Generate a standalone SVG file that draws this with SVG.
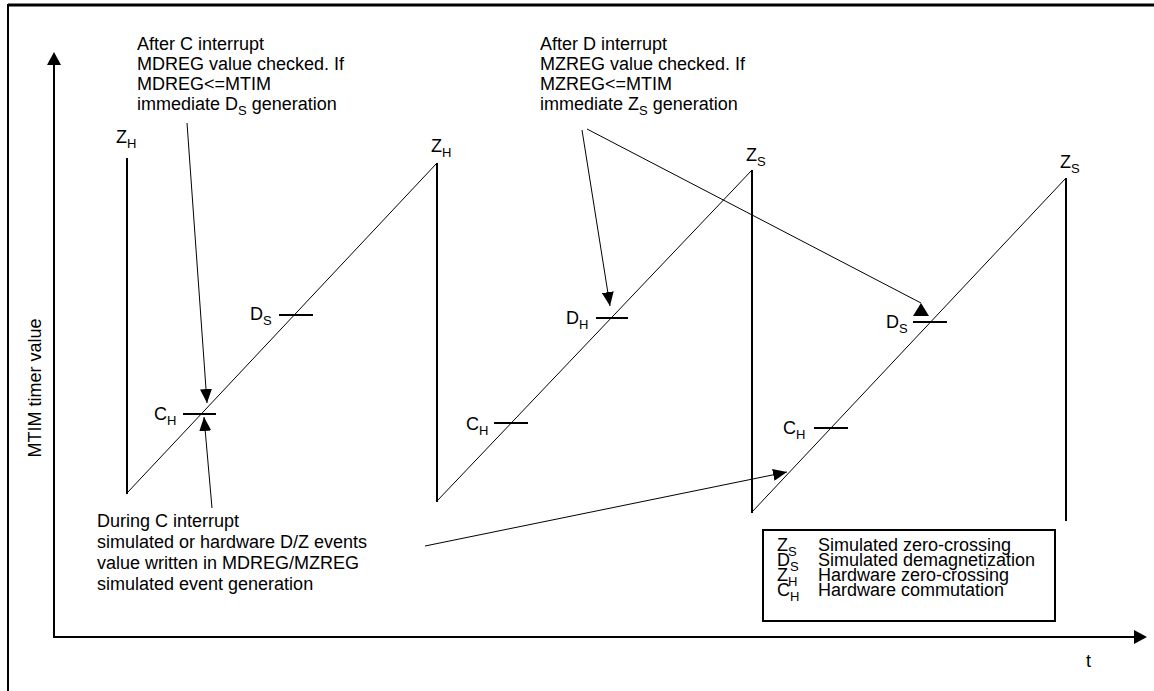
<svg xmlns="http://www.w3.org/2000/svg" width="1154" height="691" viewBox="0 0 1154 691">
<style>
text{font-family:"Liberation Sans",Arial,sans-serif;font-size:18px;fill:#000}
.sub{font-size:13px}
.thick{stroke:#000;stroke-width:2;fill:none}
.thin{stroke:#000;stroke-width:1;fill:none}
.arr{stroke:#000;stroke-width:1;fill:none;marker-end:url(#head)}
</style>
<defs>
<marker id="head" markerUnits="userSpaceOnUse" markerWidth="14" markerHeight="12" refX="14" refY="6" orient="auto"><path d="M0,0 L14,6 L0,12 z" fill="#000"/></marker>
<marker id="headUp" markerUnits="userSpaceOnUse" markerWidth="16" markerHeight="13" refX="8" refY="0" orient="0"><path d="M8,0 L16,13 L0,13 z" fill="#000"/></marker>
</defs>
<g id="frame">
<line x1="8" y1="5" x2="1154" y2="5" stroke="#000" stroke-width="3"/>
<line x1="8" y1="4" x2="8" y2="691" stroke="#000" stroke-width="2"/>
</g>
<g id="axes">
<line class="thick" x1="54" y1="637" x2="54" y2="64"/>
<path d="M54,52 L61,65 L47,65 z" fill="#000"/>
<line class="thick" x1="53" y1="637" x2="1136" y2="637"/>
<path d="M1147,637 L1134,630 L1134,644 z" fill="#000"/>
<text x="41" y="388" text-anchor="middle" transform="rotate(-90 41 388)">MTIM timer value</text>
<text x="1086" y="667">t</text>
</g>
<g id="waveform">
<line class="thick" x1="127" y1="158" x2="127" y2="494"/>
<line class="thin" x1="127" y1="493" x2="437" y2="163"/>
<line class="thick" x1="437" y1="163" x2="437" y2="502"/>
<line class="thin" x1="437" y1="501" x2="752" y2="170"/>
<line class="thick" x1="752" y1="170" x2="752" y2="513"/>
<line class="thin" x1="752" y1="512" x2="1066" y2="178"/>
<line class="thick" x1="1066" y1="178" x2="1066" y2="521"/>
</g>
<g id="ticks">
<line class="thick" x1="183" y1="414" x2="216" y2="414"/>
<line class="thick" x1="279" y1="315" x2="313" y2="315"/>
<line class="thick" x1="494" y1="423" x2="528" y2="423"/>
<line class="thick" x1="596" y1="318" x2="628" y2="318"/>
<line class="thick" x1="814" y1="428" x2="848" y2="428"/>
<line class="thick" x1="913" y1="322" x2="947" y2="322"/>
</g>
<g id="event-labels">
<text x="116" y="143">Z<tspan class="sub" dy="5">H</tspan></text>
<text x="431" y="152">Z<tspan class="sub" dy="5">H</tspan></text>
<text x="746" y="161">Z<tspan class="sub" dy="5">S</tspan></text>
<text x="1060" y="168">Z<tspan class="sub" dy="5">S</tspan></text>
<text x="154" y="420">C<tspan class="sub" dy="5">H</tspan></text>
<text x="250" y="320">D<tspan class="sub" dy="5">S</tspan></text>
<text x="466" y="430">C<tspan class="sub" dy="5">H</tspan></text>
<text x="566" y="324">D<tspan class="sub" dy="5">H</tspan></text>
<text x="783" y="434">C<tspan class="sub" dy="5">H</tspan></text>
<text x="886" y="328">D<tspan class="sub" dy="5">S</tspan></text>
</g>
<g id="note-after-c">
<text x="137" y="50">After C interrupt</text>
<text x="137" y="70">MDREG value checked. If</text>
<text x="137" y="90">MDREG&lt;=MTIM</text>
<text x="137" y="110">immediate D<tspan class="sub" dy="5">S</tspan><tspan dy="-5"> generation</tspan></text>
</g>
<g id="note-after-d">
<text x="540" y="50">After D interrupt</text>
<text x="540" y="70">MZREG value checked. If</text>
<text x="540" y="90">MZREG&lt;=MTIM</text>
<text x="540" y="110">immediate Z<tspan class="sub" dy="5">S</tspan><tspan dy="-5"> generation</tspan></text>
</g>
<g id="note-during-c">
<text x="97" y="527">During C interrupt</text>
<text x="97" y="548">simulated or hardware D/Z events</text>
<text x="97" y="569">value written in MDREG/MZREG</text>
<text x="97" y="590">simulated event generation</text>
</g>
<g id="legend">
<rect x="763" y="530" width="292" height="91" class="thick"/>
<text x="777" y="551">Z<tspan class="sub" dy="5">S</tspan></text>
<text x="818" y="551">Simulated zero-crossing</text>
<text x="777" y="566">D<tspan class="sub" dy="5">S</tspan></text>
<text x="818" y="566">Simulated demagnetization</text>
<text x="777" y="581">Z<tspan class="sub" dy="5">H</tspan></text>
<text x="818" y="581">Hardware zero-crossing</text>
<text x="777" y="596">C<tspan class="sub" dy="5">H</tspan></text>
<text x="818" y="596">Hardware commutation</text>
</g>
<g id="connectors">
<line class="arr" x1="187" y1="123" x2="207" y2="403"/>
<line class="arr" x1="212" y1="508" x2="204" y2="417"/>
<line class="arr" x1="425" y1="546" x2="787" y2="472"/>
<line class="arr" x1="582" y1="130" x2="610" y2="306"/>
<line class="thin" x1="587" y1="129" x2="921" y2="303" marker-end="url(#headUp)"/>
</g>
</svg>
